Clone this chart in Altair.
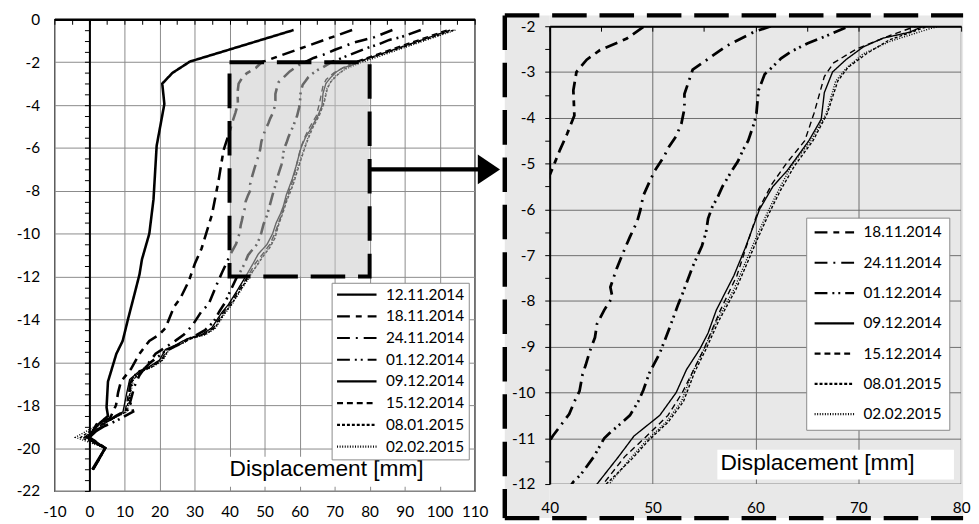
import altair as alt
import pandas as pd

# ---------------- data ----------------
SERIES = ["12.11.2014", "18.11.2014", "24.11.2014", "01.12.2014",
          "09.12.2014", "15.12.2014", "08.01.2015", "02.02.2015"]
ZOOM_SERIES = SERIES[1:]
THICK = ["12.11.2014", "18.11.2014", "24.11.2014", "01.12.2014"]

DEPTH_1211 = [-0.5, -1.97, -2.5, -3.0, -3.95, -5.9, -8.4, -10.0, -11.2, -11.9, -12.8, -14.0,
              -15.0, -15.6, -16.9, -18.1, -18.5, -18.9, -19.5, -20.0, -21.0]
DISP_1211 = [58.3, 28.7, 23.7, 20.8, 21.4, 19.2, 18.3, 17.1, 15.0, 14.3, 12.9, 11.0,
             9.5, 7.7, 5.3, 4.9, 5.3, 2.5, -0.5, 4.5, 0.8]

DEPTH_1811 = [-0.5, -1.0, -1.35, -1.88, -2.0, -2.27, -2.52, -2.73, -3.0, -3.4, -3.95, -4.35,
              -4.7, -5.2, -6.1, -7.5, -9.1, -10.7, -11.4, -12.2, -13.0, -13.4, -14.4, -14.7,
              -15.0, -15.6, -16.3, -16.9, -17.4, -18.0, -18.6, -18.9, -19.5, -20.0, -20.5, -21.0]
DISP_1811 = [75.0, 66.4, 60.4, 51.3, 49.2, 47.5, 44.9, 43.6, 42.6, 42.3, 42.4, 41.7,
             41.0, 40.1, 38.3, 36.9, 35.0, 32.0, 30.1, 28.4, 26.0, 24.2, 21.7, 20.0,
             17.1, 14.3, 11.9, 9.0, 8.2, 7.6, 5.9, 2.0, 0.0, 4.5, 2.8, 1.0]

DEPTH_2411 = [-0.5, -0.83, -0.96, -1.1, -1.42, -1.65, -1.8, -2.13, -2.43, -2.95, -3.48, -3.8,
              -4.13, -4.4, -4.63, -4.85, -5.16, -5.4, -5.7, -6.03, -6.27, -6.6, -6.86, -7.08,
              -7.3, -7.7, -7.92, -8.2, -8.5, -8.8, -9.1, -9.4, -9.6, -9.97, -10.2, -10.47,
              -10.65, -10.95, -11.8, -12.2, -13.3, -13.6, -14.3, -14.7, -15.0, -15.6, -16.2,
              -16.6, -17.1, -17.7, -18.2, -18.5, -18.9, -19.5, -20.0, -20.5, -21.0]
DISP_2411 = [86.5, 81.4, 78.3, 75.2, 70.1, 66.8, 64.0, 59.8, 57.2, 53.9, 53.1, 53.1,
             52.8, 52.3, 51.6, 51.1, 50.2, 49.7, 49.1, 48.8, 48.5, 47.8, 47.3, 46.9,
             46.5, 45.9, 46.1, 45.3, 44.6, 44.4, 43.9, 43.5, 43.2, 42.9, 42.4, 41.9,
             41.3, 40.3, 37.9, 36.8, 34.0, 32.1, 29.3, 27.0, 24.5, 18.9, 16.1,
             14.3, 12.9, 11.9, 11.0, 7.6, 3.9, 0.0, 4.5, 2.8, 1.0]

DEPTH_0112 = [-0.5, -0.83, -0.96, -1.15, -1.33, -1.65, -2.0, -2.23, -2.37, -2.55, -2.7, -2.88,
              -3.05, -3.4, -3.65, -3.9, -4.1, -4.5, -4.7, -4.95, -5.16, -5.5, -5.75, -5.95,
              -6.2, -6.5, -6.8, -7.0, -7.25, -7.85, -8.07, -8.68, -9.14, -9.57, -9.95, -10.2,
              -10.5, -10.7, -10.85, -11.0, -11.4, -11.8, -11.95, -12.75, -13.25, -13.6, -14.1,
              -14.5, -15.0, -15.5, -16.0, -16.3, -16.5, -17.0, -17.8, -18.3, -18.7, -19.0,
              -19.5, -20.0, -20.5, -21.0]
DISP_0112 = [94.6, 89.0, 85.6, 82.8, 79.4, 74.4, 69.1, 66.7, 65.1, 63.5, 62.5, 61.7,
             60.9, 60.3, 60.2, 60.1, 59.9, 59.3, 58.8, 58.3, 57.7, 56.8, 56.3, 55.8,
             55.4, 55.2, 54.8, 54.4, 53.9, 52.9, 52.5, 51.5, 50.7, 49.7, 49.1, 48.6,
             47.8, 46.8, 46.0, 45.3, 44.3, 43.0, 42.3, 40.0, 38.6, 37.2, 35.5,
             33.0, 27.5, 21.5, 17.5, 15.6, 13.5, 11.5, 11.5, 12.5, 8.0, 4.0,
             -1.0, 4.5, 2.8, 1.0]

DEPTH_0912 = [-0.5, -1.0, -1.5, -2.0, -2.13, -2.26, -2.45, -2.73, -3.0, -3.45, -4.03, -4.5,
              -5.15, -5.5, -6.0, -6.85, -7.45, -8.2, -8.7, -9.05, -9.5, -10.0, -10.5, -10.95,
              -11.4, -12.0, -12.7, -13.3, -13.7, -14.4, -14.7, -14.9, -15.2, -15.4, -15.9,
              -16.2, -16.4, -16.8, -17.4, -18.3, -18.6, -18.9, -19.5, -20.0, -20.5, -21.0]
DISP_0912 = [103.0, 94.2, 85.3, 76.3, 75.0, 72.4, 70.5, 68.8, 67.5, 66.7, 66.4, 65.2,
             63.1, 61.7, 60.4, 59.0, 57.9, 56.2, 55.4, 54.6, 53.3, 52.3, 50.7, 48.2,
             46.7, 44.6, 42.0, 39.7, 37.7, 34.9, 32.1, 27.9, 24.5, 21.7, 20.0,
             17.1, 14.3, 11.5, 10.7, 9.6, 6.8, 3.9, 0.0, 4.5, 2.8, 1.0]

DEPTH_1512 = [-0.5, -2.0, -2.2, -2.5, -2.8, -3.1, -3.9, -4.5, -5.0, -5.45, -6.0, -6.55,
              -7.45, -8.2, -9.05, -10.0, -10.5, -11.0, -11.4, -12.0, -12.7, -13.3, -13.7,
              -14.4, -14.7, -14.9, -15.2, -15.4, -15.9, -16.2, -16.4, -16.8, -17.4, -18.3,
              -18.6, -18.9, -19.5, -20.0, -20.5, -21.0]
DISP_1512 = [102.0, 75.6, 73.1, 69.8, 67.6, 66.7, 65.7, 64.8, 63.0, 61.6, 60.3, 59.5,
             58.2, 56.6, 55.0, 52.9, 51.5, 49.2, 47.3, 45.2, 42.4, 40.1, 38.1,
             35.4, 32.6, 28.4, 25.0, 22.2, 20.5, 17.6, 14.8, 12.0, 11.2, 10.2,
             7.0, 3.5, -1.5, 4.5, 2.8, 1.0]

DEPTH_0801 = [-0.5, -2.0, -2.3, -2.6, -2.9, -3.2, -3.9, -4.5, -5.05, -5.6, -6.1, -6.7,
              -7.75, -8.45, -9.05, -9.55, -10.2, -10.65, -11.05, -11.45, -12.0, -12.7, -13.3,
              -13.7, -14.4, -14.7, -14.9, -15.2, -15.4, -15.9, -16.2, -16.4, -16.8, -17.4,
              -18.3, -18.6, -18.9, -19.5, -20.0, -20.5, -21.0]
DISP_0801 = [104.0, 76.8, 73.0, 70.8, 69.0, 68.0, 67.0, 65.6, 63.8, 62.4, 61.3, 60.1,
             58.1, 56.4, 55.2, 54.1, 53.0, 51.5, 49.6, 48.0, 45.5, 42.8, 40.5,
             38.5, 35.8, 33.0, 28.8, 25.4, 22.6, 20.8, 18.0, 15.2, 12.4, 11.6,
             10.5, 7.0, 3.0, -2.5, 4.5, 2.8, 1.0]

DEPTH_0202 = [-0.5, -2.05, -2.33, -2.6, -2.9, -3.2, -3.9, -4.5, -5.05, -5.6, -6.1, -6.7,
              -7.75, -8.45, -9.05, -9.55, -10.2, -10.65, -11.05, -11.45, -12.0, -12.7, -13.3,
              -13.7, -14.4, -14.7, -14.9, -15.2, -15.4, -15.9, -16.2, -16.4, -16.8, -17.4,
              -18.3, -18.6, -18.9, -19.5, -20.0, -20.5, -21.0]
DISP_0202 = [104.5, 77.0, 73.1, 70.5, 68.9, 67.8, 66.9, 65.4, 63.5, 62.2, 61.1, 59.9,
             57.9, 56.2, 55.0, 53.9, 52.8, 51.3, 49.4, 47.8, 45.8, 43.0, 40.7,
             38.8, 36.0, 33.3, 29.0, 25.6, 22.8, 21.0, 18.2, 15.4, 12.6, 11.8,
             10.8, 7.0, 2.5, -4.0, 4.5, 2.8, 1.0]

DEPTHS = [DEPTH_1211, DEPTH_1811, DEPTH_2411, DEPTH_0112,
          DEPTH_0912, DEPTH_1512, DEPTH_0801, DEPTH_0202]
DISPS = [DISP_1211, DISP_1811, DISP_2411, DISP_0112,
         DISP_0912, DISP_1512, DISP_0801, DISP_0202]

X_TICKS_LEFT = list(range(-10, 111, 10))
Y_TICKS_LEFT = list(range(-22, 1, 2))
X_TICKS_RIGHT = [40, 50, 60, 70, 80]
Y_TICKS_RIGHT = list(range(-12, -1))
ZOOM_X = [40, 80]
ZOOM_Y = [-12, -2]
ARROW_X = [80, 113]
ARROW_Y = -7
AXIS_TITLE = "Displacement [mm]"
LEFT_TITLE_BOX = {"x": 38.3, "x2": 107.3, "y": -20.4, "y2": -21.8, "tx": 40.0, "ty": -21.0}
RIGHT_TITLE_BOX = {"x": 56.3, "x2": 79.3, "y": -11.25, "y2": -11.9, "tx": 56.6, "ty": -11.55}

# ---------------- styles ----------------
DASH = {
    "12.11.2014": [1, 0],
    "18.11.2014": [13, 6, 6, 6],
    "24.11.2014": [13, 6, 2, 6],
    "01.12.2014": [13, 5, 2, 4, 2, 5],
    "09.12.2014": [1, 0],
    "15.12.2014": [6, 4],
    "08.01.2015": [3, 2],
    "02.02.2015": [1, 1.6],
}
FONT = "Lato"
FS = 15.5

rows = []
for name, dd, xx in zip(SERIES, DEPTHS, DISPS):
    for i, (d, x) in enumerate(zip(dd, xx)):
        rows.append({"series": name, "depth": d, "disp": x, "idx": i})
df = pd.DataFrame(rows)
df_thick = df[df.series.isin(THICK)]
df_thin = df[~df.series.isin(THICK)]
df_zoom_thick = df_thick[df_thick.series != "12.11.2014"]

W1, H1 = 426, 478
W2, H2 = 417, 464
xs1 = alt.Scale(domain=[-10, 110], nice=False, zero=False)
ys1 = alt.Scale(domain=[-22, 0], nice=False, zero=False)
xs2 = alt.Scale(domain=[40, 80], nice=False, zero=False)
ys2 = alt.Scale(domain=[-12, -2], nice=False, zero=False)

lab = dict(labelFont=FONT, labelFontSize=FS, labelColor="black", title=None,
           labelFlush=False, labelOverlap=False)


def legend(x, y, row_pad, pad):
    return alt.Legend(title=None, orient="none", legendX=x, legendY=y,
                      symbolType="stroke", symbolSize=1600, clipHeight=16,
                      rowPadding=row_pad, padding=pad, fillColor="white",
                      strokeColor="#8a8a8a", labelFont=FONT, labelFontSize=FS,
                      labelColor="black", symbolStrokeColor="black",
                      symbolStrokeWidth=2.2, labelOffset=8)


def lines(data, width, xs, ys, dash_scale, leg, xaxis, yaxis, clip):
    return alt.Chart(data).mark_line(color="black", strokeWidth=width, clip=clip).encode(
        x=alt.X("disp:Q", scale=xs, axis=xaxis),
        y=alt.Y("depth:Q", scale=ys, axis=yaxis),
        strokeDash=alt.StrokeDash("series:N", scale=dash_scale, legend=leg),
        order=alt.Order("idx:Q"),
    )


# ---------------- left panel ----------------
dash_L = alt.Scale(domain=SERIES, range=[DASH[s] for s in SERIES])
leg_L = legend(281, 267, 5.0, 4)

axL_x_lab = alt.Axis(orient="bottom", values=X_TICKS_LEFT, grid=True, gridColor="#8a8a8a",
                     ticks=False, domain=False, labelPadding=14,
                     labelExpr="'' + datum.value", **lab)
axL_y_lab = alt.Axis(orient="left", values=Y_TICKS_LEFT, grid=True, gridColor="#8a8a8a",
                     ticks=False, domain=False, labelPadding=15,
                     labelExpr="'' + datum.value", **lab)
axL_x_top = alt.Axis(orient="bottom", offset=-H1, values=list(range(-10, 111, 5)),
                     labels=False, ticks=True, tickSize=5, tickColor="black",
                     domain=True, domainColor="black", domainWidth=2.5, grid=False, title=None)
axL_y_zero = alt.Axis(orient="left", offset=-(0 - (-10)) * W1 / 120.0,
                      values=[-0.5 * i for i in range(45)], labels=False, ticks=True,
                      tickSize=5, tickColor="black", domain=True, domainColor="black",
                      domainWidth=2, grid=False, title=None)

left_thick = lines(df_thick, 2.6, xs1, ys1, dash_L, leg_L, axL_x_lab, axL_y_lab, False)
left_thin = lines(df_thin, 1.4, xs1, ys1, dash_L, leg_L, axL_x_top, axL_y_zero, False)

zoom_df = pd.DataFrame({"x": [ZOOM_X[0]], "x2": [ZOOM_X[1]], "y": [ZOOM_Y[0]], "y2": [ZOOM_Y[1]]})
overlay = alt.Chart(zoom_df).mark_rect(color="#c8c8c8", opacity=0.52).encode(
    x=alt.X("x:Q", scale=xs1, axis=None), x2="x2:Q",
    y=alt.Y("y:Q", scale=ys1, axis=None), y2="y2:Q")
border = alt.Chart(zoom_df).mark_rect(fill="white", fillOpacity=0, stroke="black",
                                      strokeWidth=4, strokeDash=[35, 13]).encode(
    x=alt.X("x:Q", scale=xs1, axis=None), x2="x2:Q",
    y=alt.Y("y:Q", scale=ys1, axis=None), y2="y2:Q")

arrow_df = pd.DataFrame({"x": [ARROW_X[0]], "x2": [ARROW_X[1]], "y": [ARROW_Y]})
arrow = alt.Chart(arrow_df).mark_rule(color="black", strokeWidth=4.5).encode(
    x=alt.X("x:Q", scale=xs1, axis=None), x2="x2:Q",
    y=alt.Y("y:Q", scale=ys1, axis=None))
head = alt.Chart(arrow_df).mark_point(shape="M1,0L-0.5,-1L-0.5,1Z", size=900, filled=True,
                                      color="black", opacity=1, strokeWidth=0).encode(
    x=alt.X("x2:Q", scale=xs1, axis=None),
    y=alt.Y("y:Q", scale=ys1, axis=None))


def title_layers(box, xs, ys):
    bdf = pd.DataFrame([{**box, "t": AXIS_TITLE}])
    rect = alt.Chart(bdf).mark_rect(color="white").encode(
        x=alt.X("x:Q", scale=xs, axis=None), x2="x2:Q",
        y=alt.Y("y:Q", scale=ys, axis=None), y2="y2:Q")
    txt = alt.Chart(bdf).mark_text(align="left", baseline="middle", font="Liberation Sans",
                                   fontSize=23, color="black").encode(
        x=alt.X("tx:Q", scale=xs, axis=None),
        y=alt.Y("ty:Q", scale=ys, axis=None), text="t:N")
    return rect, txt


l_rect, l_txt = title_layers(LEFT_TITLE_BOX, xs1, ys1)

left = alt.layer(left_thick, left_thin, overlay, border, arrow, head, l_rect, l_txt).resolve_axis(
    x="independent", y="independent").properties(
    width=W1, height=H1, view=alt.ViewBackground(fill="white", stroke="black", strokeWidth=1.2))

# ---------------- right panel ----------------
dash_R = alt.Scale(domain=ZOOM_SERIES, range=[DASH[s] for s in ZOOM_SERIES])
leg_R = legend(260, 194, 13.7, 7)

axR_x_grid = alt.Axis(orient="bottom", values=X_TICKS_RIGHT, grid=True, gridColor="#6e6e6e",
                      labels=False, ticks=False, domain=False, title=None, zindex=0)
axR_y_grid = alt.Axis(orient="left", values=Y_TICKS_RIGHT, grid=True, gridColor="#6e6e6e",
                      labels=False, ticks=False, domain=False, title=None, zindex=0)
axR_x_lab = alt.Axis(orient="bottom", values=X_TICKS_RIGHT, grid=False, ticks=False,
                     domain=False, labelPadding=17, zindex=1, **lab)
axR_y_lab = alt.Axis(orient="left", values=[-2 - 0.5 * i for i in range(21)], grid=False,
                     ticks=True, tickSize=5, tickColor="black", domain=True,
                     domainColor="black", domainWidth=2, labelPadding=10, zindex=1,
                     labelExpr="datum.value % 1 == 0 ? '' + datum.value : ''", **lab)
axR_x_top = alt.Axis(orient="bottom", offset=-H2, values=list(range(40, 81, 5)), labels=False,
                     ticks=True, tickSize=5, tickColor="black", domain=True,
                     domainColor="black", domainWidth=2, grid=False, title=None, zindex=1)

r_thick = lines(df_zoom_thick, 2.8, xs2, ys2, dash_R, leg_R, axR_x_grid, axR_y_grid, True)
r_thin = lines(df_thin, 1.4, xs2, ys2, dash_R, leg_R, axR_x_lab, axR_y_lab, True)

r_rect, r_txt = title_layers(RIGHT_TITLE_BOX, xs2, ys2)
r_rect = r_rect.encode(x=alt.X("x:Q", scale=xs2, axis=axR_x_top))

GRAY = "#e8e8e8"
strips = [
    alt.Chart().mark_rect(color=GRAY).encode(x=alt.value(-45.5), x2=alt.value(0),
                                              y=alt.value(-11), y2=alt.value(H2 + 34.5)),
    alt.Chart().mark_rect(color=GRAY).encode(x=alt.value(0), x2=alt.value(W2 + 2),
                                              y=alt.value(H2), y2=alt.value(H2 + 34.5)),
    alt.Chart().mark_rect(color=GRAY).encode(x=alt.value(0), x2=alt.value(W2 + 2),
                                              y=alt.value(-11), y2=alt.value(0)),
    alt.Chart().mark_rect(color=GRAY).encode(x=alt.value(W2), x2=alt.value(W2 + 2),
                                              y=alt.value(0), y2=alt.value(H2)),
]
bd = dict(color="black", strokeWidth=4.5, strokeDash=[35, 13])
frame = [
    alt.Chart().mark_rule(**bd).encode(x=alt.value(-45.5), x2=alt.value(W2 + 2), y=alt.value(-11)),
    alt.Chart().mark_rule(**bd).encode(x=alt.value(-45.5), y=alt.value(-11), y2=alt.value(H2 + 34.5)),
    alt.Chart().mark_rule(**bd).encode(x=alt.value(-45.5), x2=alt.value(W2 + 2), y=alt.value(H2 + 34.5)),
]

right = alt.layer(*strips, *frame, r_thick, r_thin, r_rect, r_txt).resolve_axis(
    x="independent", y="independent").properties(
    width=W2, height=H2, view=alt.ViewBackground(fill=GRAY, stroke="#333333", strokeWidth=1.2))

chart = alt.hconcat(left, right, spacing=76, bounds="flush", center=True).resolve_scale(
    strokeDash="independent").resolve_legend(strokeDash="independent").properties(
    padding={"left": 7, "top": 0, "right": 0, "bottom": 0}).configure(font=FONT)

chart.save("out.html", embed_options={"renderer": "svg", "actions": False})
